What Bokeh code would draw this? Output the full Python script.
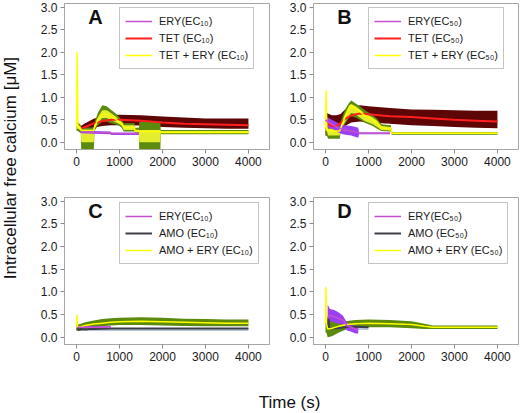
import math
from bokeh.plotting import figure
from bokeh.models import Range1d, FixedTicker, PrintfTickFormatter, Legend, LegendItem, Label
from bokeh.layouts import row, column
from bokeh.embed import file_html
from bokeh.resources import INLINE

FONT = "Liberation Sans"

# ---------------- axis ticks ----------------
X_TICKS = [0, 1000, 2000, 3000, 4000]
Y_TICKS = [0.0, 0.5, 1.0, 1.5, 2.0, 2.5, 3.0]

# ---------------- Panel A (EC10, TET) ----------------
A_ERY_T = [100, 400, 790, 810, 1450]
A_ERY_MEAN = [0.23, 0.22, 0.21, 0.19, 0.19]
A_ERY_LO = [0.20, 0.19, 0.18, 0.16, 0.16]
A_ERY_HI = [0.25, 0.25, 0.24, 0.22, 0.22]

A_TET_T = [100, 200, 400, 600, 800, 1000, 1500, 2000, 2500, 3000, 3500, 4000]
A_TET_MEAN = [0.30, 0.34, 0.42, 0.47, 0.50, 0.50, 0.48, 0.44, 0.41, 0.40, 0.39, 0.38]
A_TET_LO = [0.24, 0.27, 0.32, 0.36, 0.38, 0.38, 0.37, 0.34, 0.32, 0.31, 0.30, 0.30]
A_TET_HI = [0.36, 0.42, 0.52, 0.58, 0.61, 0.61, 0.60, 0.57, 0.55, 0.53, 0.53, 0.53]

A_MIX_T = [0, 15, 30, 100, 110, 400, 420, 500, 600, 700, 800, 900, 1000, 1050, 1100, 1350, 1360, 1450, 1460, 1950, 1960, 4000]
A_MIX_MEAN = [0.35, 2.00, 0.35, 0.30, 0.26, 0.26, 0.35, 0.50, 0.62, 0.62, 0.57, 0.52, 0.45, 0.42, 0.33, 0.33, 0.25, 0.25, 0.24, 0.24, 0.22, 0.22]
A_MIX_IN_LO = [0.30, 0.30, 0.30, 0.26, 0.00, 0.00, 0.30, 0.44, 0.54, 0.54, 0.49, 0.45, 0.40, 0.37, 0.27, 0.27, 0.22, 0.22, 0.00, 0.00, 0.21, 0.21]
A_MIX_IN_HI = [0.40, 2.00, 0.40, 0.34, 0.28, 0.28, 0.40, 0.56, 0.71, 0.71, 0.65, 0.58, 0.50, 0.45, 0.38, 0.38, 0.28, 0.28, 0.27, 0.27, 0.25, 0.25]
A_MIX_LO = [0.25, 0.25, 0.25, 0.20, -0.20, -0.20, 0.25, 0.38, 0.46, 0.46, 0.42, 0.40, 0.36, 0.32, 0.24, 0.24, 0.20, 0.20, -0.20, -0.20, 0.18, 0.18]
A_MIX_HI = [0.45, 2.00, 0.45, 0.38, 0.33, 0.33, 0.45, 0.66, 0.82, 0.80, 0.72, 0.65, 0.55, 0.50, 0.42, 0.42, 0.32, 0.32, 0.45, 0.45, 0.27, 0.27]

# ---------------- Panel B (EC50, TET) ----------------
B_ERY_T = [0, 50, 150, 300, 400, 500, 600, 700, 760, 780, 1500]
B_ERY_MEAN = [0.50, 0.45, 0.40, 0.32, 0.28, 0.26, 0.25, 0.23, 0.22, 0.20, 0.20]
B_ERY_LO = [0.30, 0.32, 0.30, 0.22, 0.18, 0.16, 0.15, 0.12, 0.10, 0.18, 0.18]
B_ERY_HI = [0.60, 0.55, 0.50, 0.42, 0.38, 0.37, 0.36, 0.34, 0.32, 0.22, 0.22]

B_TET_T = [0, 50, 150, 250, 350, 450, 600, 800, 1000, 1500, 2000, 2500, 3000, 3500, 4000]
B_TET_MEAN = [0.55, 0.42, 0.36, 0.36, 0.42, 0.52, 0.60, 0.64, 0.62, 0.58, 0.56, 0.53, 0.50, 0.48, 0.46]
B_TET_LO = [0.15, 0.15, 0.16, 0.20, 0.28, 0.36, 0.44, 0.46, 0.44, 0.41, 0.38, 0.36, 0.34, 0.32, 0.31]
B_TET_HI = [0.70, 0.64, 0.60, 0.60, 0.63, 0.72, 0.78, 0.82, 0.80, 0.76, 0.73, 0.72, 0.71, 0.70, 0.70]

B_MIX_T = [0, 15, 30, 60, 330, 350, 450, 550, 600, 700, 800, 900, 1000, 1100, 1200, 1300, 1500, 1520, 1540, 4000]
B_MIX_MEAN = [0.30, 1.15, 0.30, 0.25, 0.25, 0.30, 0.55, 0.75, 0.80, 0.75, 0.68, 0.60, 0.55, 0.50, 0.42, 0.32, 0.30, 0.30, 0.20, 0.20]
B_MIX_IN_LO = [0.25, 0.25, 0.25, 0.15, 0.15, 0.25, 0.45, 0.60, 0.65, 0.62, 0.55, 0.48, 0.44, 0.40, 0.34, 0.27, 0.26, 0.26, 0.19, 0.19]
B_MIX_IN_HI = [0.35, 1.15, 0.35, 0.30, 0.30, 0.38, 0.62, 0.82, 0.85, 0.80, 0.73, 0.65, 0.60, 0.55, 0.48, 0.36, 0.34, 0.34, 0.22, 0.22]
B_MIX_LO = [0.15, 0.15, 0.15, 0.08, 0.08, 0.20, 0.40, 0.55, 0.58, 0.55, 0.50, 0.44, 0.40, 0.36, 0.30, 0.25, 0.24, 0.24, 0.17, 0.17]
B_MIX_HI = [0.50, 1.15, 0.50, 0.38, 0.38, 0.45, 0.72, 0.88, 0.93, 0.86, 0.80, 0.72, 0.66, 0.60, 0.52, 0.40, 0.38, 0.38, 0.23, 0.23]

# ---------------- Panel C (EC10, AMO) ----------------
C_ERY_T = [30, 800]
C_ERY_MEAN = [0.22, 0.22]
C_ERY_LO = [0.20, 0.20]
C_ERY_HI = [0.24, 0.24]

C_AMO_T = [0, 50, 100, 200, 300, 400, 800, 4000]
C_AMO_MEAN = [0.18, 0.17, 0.18, 0.17, 0.18, 0.18, 0.19, 0.19]
C_AMO_LO = [0.14, 0.14, 0.14, 0.14, 0.14, 0.14, 0.14, 0.14]
C_AMO_HI = [0.20, 0.20, 0.20, 0.20, 0.20, 0.20, 0.20, 0.20]

C_MIX_T = [0, 10, 20, 50, 200, 400, 600, 800, 1000, 1500, 2000, 2500, 3000, 3500, 4000]
C_MIX_MEAN = [0.25, 0.50, 0.25, 0.22, 0.26, 0.29, 0.31, 0.33, 0.34, 0.35, 0.34, 0.33, 0.32, 0.31, 0.31]
C_MIX_LO = [0.15, 0.15, 0.15, 0.13, 0.18, 0.21, 0.24, 0.26, 0.27, 0.27, 0.26, 0.25, 0.24, 0.24, 0.24]
C_MIX_HI = [0.30, 0.50, 0.30, 0.28, 0.33, 0.37, 0.40, 0.42, 0.43, 0.44, 0.43, 0.41, 0.40, 0.39, 0.39]

# ---------------- Panel D (EC50, AMO) ----------------
D_ERY_T = [50, 100, 200, 300, 400, 450, 500, 600, 700, 760]
D_ERY_MEAN = [0.45, 0.48, 0.45, 0.42, 0.38, 0.33, 0.25, 0.22, 0.18, 0.15]
D_ERY_LO = [0.25, 0.35, 0.33, 0.30, 0.28, 0.22, 0.15, 0.12, 0.08, 0.08]
D_ERY_HI = [0.72, 0.62, 0.60, 0.55, 0.48, 0.40, 0.32, 0.28, 0.25, 0.22]

D_AMO_T = [50, 65, 75, 85, 300, 500, 700, 1000]
D_AMO_MEAN = [0.20, 0.20, 0.40, 0.20, 0.20, 0.23, 0.23, 0.22]
D_AMO_LO = [0.15, 0.15, 0.15, 0.15, 0.15, 0.16, 0.16, 0.16]
D_AMO_HI = [0.22, 0.22, 0.25, 0.22, 0.22, 0.24, 0.24, 0.23]

D_MIX_T = [0, 10, 20, 50, 150, 300, 500, 700, 1000, 1500, 2000, 2300, 2500, 3000, 4000]
D_MIX_MEAN = [0.30, 1.10, 0.30, 0.18, 0.20, 0.24, 0.28, 0.30, 0.31, 0.30, 0.28, 0.24, 0.22, 0.22, 0.22]
D_MIX_LO = [0.10, 0.10, 0.10, 0.00, 0.02, 0.10, 0.18, 0.21, 0.22, 0.22, 0.20, 0.18, 0.18, 0.18, 0.18]
D_MIX_HI = [0.50, 1.15, 0.50, 0.42, 0.38, 0.36, 0.36, 0.38, 0.39, 0.38, 0.35, 0.30, 0.26, 0.26, 0.26]

# ---------------- labels ----------------
LEG_A = ["ERY(EC\u2081\u2080)", "TET (EC\u2081\u2080)", "TET + ERY (EC\u2081\u2080)"]
LEG_B = ["ERY(EC\u2085\u2080)", "TET (EC\u2085\u2080)", "TET + ERY (EC\u2085\u2080)"]
LEG_C = ["ERY(EC\u2081\u2080)", "AMO (EC\u2081\u2080)", "AMO + ERY (EC\u2081\u2080)"]
LEG_D = ["ERY(EC\u2085\u2080)", "AMO (EC\u2085\u2080)", "AMO + ERY (EC\u2085\u2080)"]
Y_LABEL = "Intracellular free calcium [\u03bcM]"
X_LABEL = "Time (s)"

# ---------------- colours ----------------
ERY_BAND, ERY_LINE = "#9b3ff2", "#c64fd0"
TET_BAND, TET_LINE = "#5e0606", "#ff1f1f"
MIX_OUT, MIX_IN, MIX_LINE = "#5b8a0c", "#e4ee2e", "#ffff00"
AMO_BAND, AMO_LINE = "#b8c6dc", "#3e3e48"
FRAME = "#a6a6a6"


def make_panel(letter, labels, ery, other, mix, other_kind, border_l, border_r,
               border_t, border_b, width, height):
    p = figure(width=width, height=height,
               x_range=Range1d(-280, 4490), y_range=Range1d(-0.16, 3.08),
               output_backend="svg", toolbar_location=None,
               min_border_left=border_l, min_border_right=border_r,
               min_border_top=border_t, min_border_bottom=border_b)
    p.grid.visible = False
    p.outline_line_color = FRAME
    p.background_fill_color = "white"
    p.border_fill_color = "white"

    p.xaxis.ticker = FixedTicker(ticks=X_TICKS, minor_ticks=[])
    p.yaxis.ticker = FixedTicker(ticks=Y_TICKS, minor_ticks=[])
    p.xaxis.formatter = PrintfTickFormatter(format="%d")
    p.yaxis.formatter = PrintfTickFormatter(format="%.1f")
    for ax in (p.xaxis[0], p.yaxis[0]):
        ax.axis_line_color = FRAME
        ax.major_tick_line_color = "#8c8c8c"
        ax.major_tick_out = 4
        ax.major_tick_in = 0
        ax.minor_tick_out = 0
        ax.major_label_text_font = FONT
        ax.major_label_text_font_size = "12px"
        ax.major_label_text_color = "#1a1a1a"
        ax.major_label_standoff = 3

    # bands
    if other_kind == "tet":
        p.varea(x=other[0], y1=other[2], y2=other[3], fill_color=TET_BAND)
    else:
        p.varea(x=other[0], y1=other[2], y2=other[3], fill_color=AMO_BAND)
    p.varea(x=mix[0], y1=mix[2], y2=mix[3], fill_color=MIX_OUT)
    if len(mix) > 4:
        p.varea(x=mix[0], y1=mix[4], y2=mix[5], fill_color=MIX_IN)
    p.varea(x=ery[0], y1=ery[2], y2=ery[3], fill_color=ERY_BAND)

    # mean lines
    if other_kind == "tet":
        r_other = p.line(other[0], other[1], line_color=TET_LINE, line_width=2)
    else:
        r_other = p.line(other[0], other[1], line_color=AMO_LINE, line_width=2)
    r_mix = p.line(mix[0], mix[1], line_color=MIX_LINE, line_width=1.5)
    r_ery = p.line(ery[0], ery[1], line_color=ERY_LINE, line_width=1.5)

    legend = Legend(items=[LegendItem(label=labels[0], renderers=[r_ery]),
                           LegendItem(label=labels[1], renderers=[r_other]),
                           LegendItem(label=labels[2], renderers=[r_mix])],
                    location=(55, 80))
    legend.border_line_color = "#8a8a8a"
    legend.border_line_width = 1
    legend.background_fill_color = "white"
    legend.background_fill_alpha = 1
    legend.label_text_font = FONT
    legend.label_text_font_size = "11px"
    legend.label_text_color = "#1a1a1a"
    legend.glyph_width = 27
    legend.glyph_height = 16
    legend.label_height = 16
    legend.label_standoff = 7
    legend.padding = 5
    legend.spacing = 1
    legend.margin = 0
    p.add_layout(legend)

    p.add_layout(Label(x=440, y=2.78, text=letter, text_font=FONT, text_font_size="20px",
                       text_font_style="bold", text_align="center", text_baseline="middle",
                       text_color="#111111"))
    return p


pA = make_panel("A", LEG_A,
                (A_ERY_T, A_ERY_MEAN, A_ERY_LO, A_ERY_HI),
                (A_TET_T, A_TET_MEAN, A_TET_LO, A_TET_HI),
                (A_MIX_T, A_MIX_MEAN, A_MIX_LO, A_MIX_HI, A_MIX_IN_LO, A_MIX_IN_HI),
                "tet", 42, 1, 3, 41, 248, 190)
pB = make_panel("B", LEG_B,
                (B_ERY_T, B_ERY_MEAN, B_ERY_LO, B_ERY_HI),
                (B_TET_T, B_TET_MEAN, B_TET_LO, B_TET_HI),
                (B_MIX_T, B_MIX_MEAN, B_MIX_LO, B_MIX_HI, B_MIX_IN_LO, B_MIX_IN_HI),
                "tet", 43, 1, 3, 41, 249, 190)
pC = make_panel("C", LEG_C,
                (C_ERY_T, C_ERY_MEAN, C_ERY_LO, C_ERY_HI),
                (C_AMO_T, C_AMO_MEAN, C_AMO_LO, C_AMO_HI),
                (C_MIX_T, C_MIX_MEAN, C_MIX_LO, C_MIX_HI),
                "amo", 42, 1, 7, 26, 248, 180)
pD = make_panel("D", LEG_D,
                (D_ERY_T, D_ERY_MEAN, D_ERY_LO, D_ERY_HI),
                (D_AMO_T, D_AMO_MEAN, D_AMO_LO, D_AMO_HI),
                (D_MIX_T, D_MIX_MEAN, D_MIX_LO, D_MIX_HI),
                "amo", 43, 1, 7, 26, 249, 180)

# shared y label
py = figure(width=22, height=370, x_range=Range1d(0, 1), y_range=Range1d(0, 1),
            x_axis_type=None, y_axis_type=None, output_backend="svg", toolbar_location=None,
            min_border=0)
py.outline_line_color = None
py.add_layout(Label(x=0.45, y=0.547, text=Y_LABEL, angle=math.pi / 2, text_font=FONT,
                    text_font_size="17px", text_align="center", text_baseline="middle",
                    text_color="#111111"))

# shared x label
px = figure(width=519, height=42, x_range=Range1d(0, 1), y_range=Range1d(0, 1),
            x_axis_type=None, y_axis_type=None, output_backend="svg", toolbar_location=None,
            min_border=0)
px.outline_line_color = None
px.add_layout(Label(x=0.557, y=0.24, text=X_LABEL, text_font=FONT, text_font_size="17px",
                    text_align="center", text_baseline="middle", text_color="#111111"))

layout = column(row(py, column(row(pA, pB), row(pC, pD))), px)

with open("out.html", "w") as f:
    f.write(file_html(layout, INLINE))
